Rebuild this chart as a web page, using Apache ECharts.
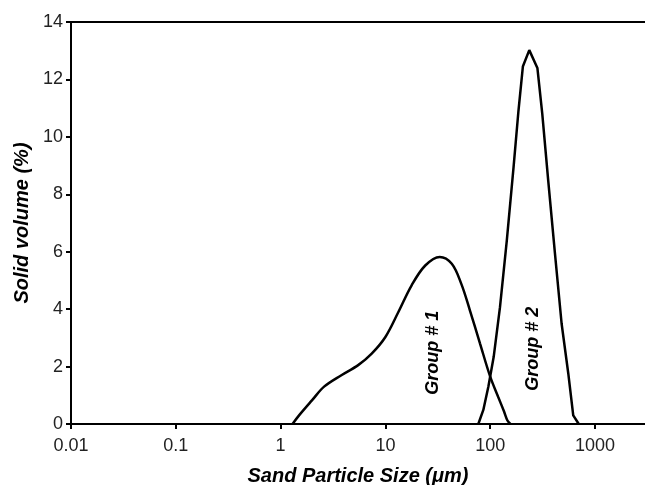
<!DOCTYPE html>
<html>
<head>
<meta charset="utf-8">
<script src="https://cdn.jsdelivr.net/npm/echarts@6/dist/echarts.min.js"></script>
<style>
  html, body { margin: 0; padding: 0; background: #fff; }
  #chart { width: 645px; height: 485px; }
</style>
</head>
<body>
<div id="chart"></div>
<script>
// particle size (um) and solid volume (%)
var group1Size = [1.3, 1.5, 2.0, 2.6, 3.8, 5.5, 7.4, 10, 13.3, 17.8, 24, 33, 43, 53, 64, 80, 100, 119, 135, 146, 156];
var group1Vol  = [0, 0.3, 0.83, 1.3, 1.7, 2.05, 2.45, 3.03, 3.9, 4.83, 5.52, 5.82, 5.58, 4.88, 3.96, 2.8, 1.65, 0.95, 0.45, 0.12, 0];

var group2Size = [77, 86, 96, 108, 124, 144, 167, 186, 205, 236, 282, 314, 358, 415, 480, 556, 620, 700];
var group2Vol  = [0, 0.49, 1.3, 2.34, 4.07, 6.39, 8.94, 10.9, 12.45, 13.02, 12.4, 10.8, 8.47, 5.93, 3.5, 1.76, 0.3, 0];

var groupNames = ['Group # 1', 'Group # 2'];
var labelSize  = [28.4, 259];
var labelVol   = [2.48, 2.62];

function pairs(xs, ys) {
  var out = [];
  for (var i = 0; i < xs.length; i++) out.push([xs[i], ys[i]]);
  return out;
}

var font = "'Liberation Sans', Arial, sans-serif";
var chart = echarts.init(document.getElementById('chart'));

chart.setOption({
  animation: false,
  grid: { left: 71, right: 0, top: 22, bottom: 61, outerBoundsMode: 'none', containLabel: false },
  xAxis: [
    {
      type: 'log',
      min: 0.01,
      max: 3000,
      name: 'Sand Particle Size (\u03bcm)',
      nameLocation: 'middle',
      nameGap: 42,
      nameTextStyle: { fontFamily: font, fontSize: 20, fontWeight: 'bold', fontStyle: 'italic', color: '#000' },
      axisLine: { lineStyle: { color: '#000', width: 2 } },
      axisTick: { length: 5, lineStyle: { color: '#000', width: 2 } },
      axisLabel: {
        fontFamily: font, fontSize: 18, color: '#222', margin: 13,
        showMaxLabel: false,
        formatter: function (v) { return String(+Number(v).toPrecision(3)); }
      },
      splitLine: { show: false },
      minorTick: { show: false }
    },
    {
      type: 'value',
      position: 'top',
      min: 0, max: 1,
      axisLine: { show: true, lineStyle: { color: '#000', width: 2 } },
      axisTick: { show: false },
      axisLabel: { show: false },
      splitLine: { show: false }
    }
  ],
  yAxis: {
    type: 'value',
    min: 0,
    max: 14,
    interval: 2,
    name: 'Solid volume (%)',
    nameLocation: 'middle',
    nameGap: 38,
    nameTextStyle: { fontFamily: font, fontSize: 20, fontWeight: 'bold', fontStyle: 'italic', color: '#000' },
    axisLine: { show: true, lineStyle: { color: '#000', width: 2 } },
    axisTick: { show: true, length: 5, lineStyle: { color: '#000', width: 2 } },
    axisLabel: { fontFamily: font, fontSize: 18, color: '#222', margin: 8 },
    splitLine: { show: false }
  },
  series: [
    {
      name: groupNames[0],
      type: 'line',
      smooth: 0.35,
      showSymbol: false,
      lineStyle: { color: '#000', width: 2.5 },
      data: pairs(group1Size, group1Vol)
    },
    {
      name: groupNames[1],
      type: 'line',
      smooth: false,
      showSymbol: false,
      lineStyle: { color: '#000', width: 2.5 },
      data: pairs(group2Size, group2Vol)
    },
    {
      type: 'scatter',
      symbolSize: 0,
      silent: true,
      itemStyle: { opacity: 1 },
      label: {
        show: true,
        position: 'inside',
        rotate: 90,
        formatter: function (p) { return groupNames[p.dataIndex]; },
        fontFamily: font, fontSize: 18, fontWeight: 'bold', fontStyle: 'italic', color: '#000'
      },
      data: pairs(labelSize, labelVol)
    }
  ]
});
</script>
</body>
</html>
